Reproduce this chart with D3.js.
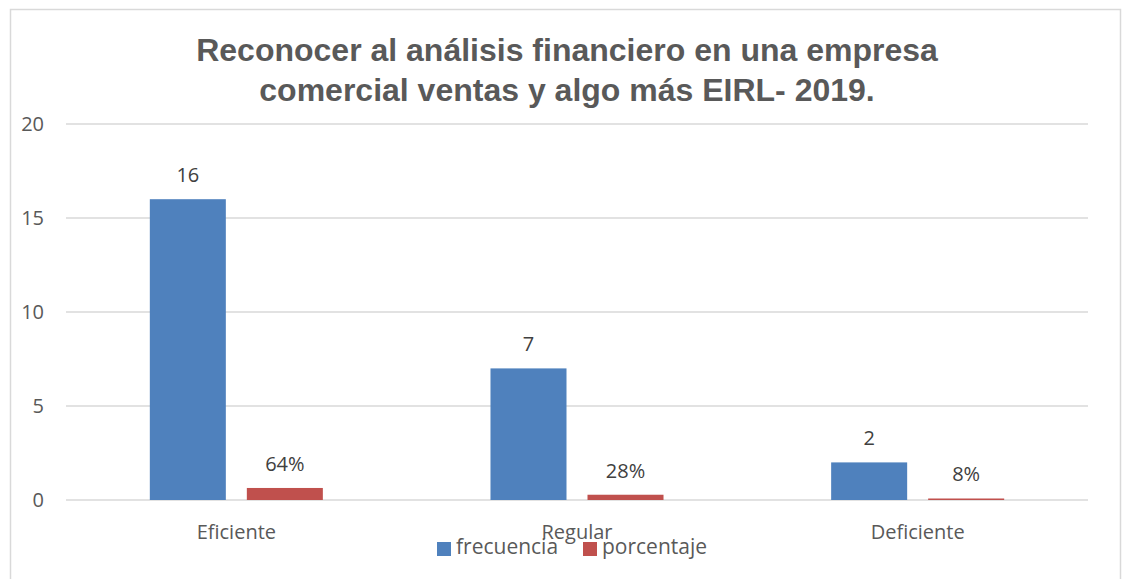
<!DOCTYPE html>
<html><head><meta charset="utf-8">
<script src="https://cdn.jsdelivr.net/npm/d3@7"></script>
<style>body{margin:0;background:#fff}svg{display:block}</style>
</head><body>
<svg id="c" width="1123" height="579"></svg>
<script>
const categories = ["Eficiente", "Regular", "Deficiente"];
const seriesNames = ["frecuencia", "porcentaje"];
const frecuencia = [16, 7, 2];
const porcentaje = [0.64, 0.28, 0.08];
const porcentajeLabels = ["64%", "28%", "8%"];
const yTicks = [0, 5, 10, 15, 20];
const titleLines = ["Reconocer al análisis financiero en una empresa", "comercial ventas y algo más EIRL- 2019."];
const colors = ["#4F81BD", "#C0504D"];

const svg = d3.select("#c");
const bodyFont = "'Open Sans', sans-serif";

// border
svg.append("rect").attr("x", 10.5).attr("y", 9.5).attr("width", 1110).attr("height", 600)
  .attr("fill", "none").attr("stroke", "#d9d9d9").attr("stroke-width", 1.5);

const x0 = d3.scaleBand().domain(categories).range([66, 1088]);
const x1 = d3.scaleBand().domain(seriesNames).range([0, x0.bandwidth()]).paddingInner(0.2165).paddingOuter(0.864);
const y = d3.scaleLinear().domain([0, 20]).range([500, 124]);

// gridlines
svg.append("g").selectAll("line").data(yTicks).join("line")
  .attr("x1", 66).attr("x2", 1088).attr("y1", d => y(d)).attr("y2", d => y(d))
  .attr("stroke", "#d9d9d9").attr("stroke-width", 1.5);

// y axis labels
const yAxis = d3.axisLeft(y).tickValues(yTicks).tickSize(0).tickPadding(0);
const ya = svg.append("g").attr("transform", "translate(44,0)").call(yAxis);
ya.select(".domain").remove();
ya.selectAll("text").attr("font-family", bodyFont).attr("font-size", 20).attr("fill", "#595959")
  .attr("dy", "0.3em");

// x axis labels
const xAxis = d3.axisBottom(x0).tickSize(0).tickPadding(0);
const xa = svg.append("g").attr("transform", "translate(0,539)").call(xAxis);
xa.select(".domain").remove();
xa.selectAll("text").attr("font-family", bodyFont).attr("font-size", 20).attr("fill", "#595959")
  .attr("dy", 0);

const data = categories.map((c, i) => ({c, vals: [
  {s: "frecuencia", v: frecuencia[i], lab: String(frecuencia[i])},
  {s: "porcentaje", v: porcentaje[i], lab: porcentajeLabels[i]}
]}));

const g = svg.append("g").selectAll("g").data(data).join("g")
  .attr("transform", d => `translate(${x0(d.c)},0)`);
g.selectAll("rect").data(d => d.vals).join("rect")
  .attr("x", d => x1(d.s)).attr("width", x1.bandwidth())
  .attr("y", d => y(d.v)).attr("height", d => y(0) - y(d.v))
  .attr("fill", d => colors[seriesNames.indexOf(d.s)]);
g.selectAll("text").data(d => d.vals).join("text")
  .attr("x", d => x1(d.s) + x1.bandwidth() / 2).attr("y", d => y(d.v) - 17)
  .attr("text-anchor", "middle").attr("font-family", bodyFont).attr("font-size", 20)
  .attr("fill", "#404040").text(d => d.lab);

// title
svg.append("g").selectAll("text").data(titleLines).join("text")
  .attr("x", 567).attr("y", (d, i) => 61 + i * 40)
  .attr("text-anchor", "middle").attr("font-family", "'Liberation Sans', Arial, sans-serif")
  .attr("font-weight", "bold").attr("font-size", 32).attr("fill", "#595959").text(d => d);

// legend
const legendX = [437, 583];
const lg = svg.append("g").selectAll("g").data(seriesNames).join("g")
  .attr("transform", (d, i) => `translate(${legendX[i]},542)`);
lg.append("rect").attr("width", 14).attr("height", 14).attr("fill", (d, i) => colors[i]);
lg.append("text").attr("x", 19).attr("y", 12).attr("font-family", bodyFont).attr("font-size", 21)
  .attr("fill", "#595959").text(d => d);
</script>
</body></html>
